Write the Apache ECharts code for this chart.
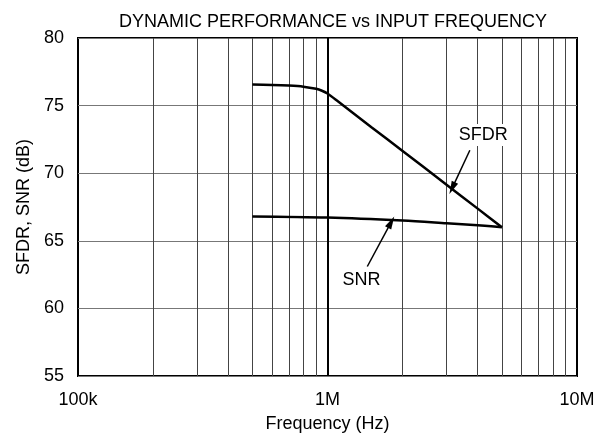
<!DOCTYPE html>
<html><head><meta charset="utf-8">
<script src="https://cdn.jsdelivr.net/npm/echarts@6/dist/echarts.min.js"></script>
<style>html,body{margin:0;padding:0;background:#fff}#c{width:608px;height:443px}</style>
</head><body><div id="c"></div>
<script>
// Data
const sfdrFreq = [5e5, 6e5, 7e5, 8e5, 9e5, 9.5e5, 1e6, 1.1e6, 1.5e6, 2e6, 3e6, 4e6, 5e6];
const sfdrVal  = [76.56, 76.53, 76.48, 76.4, 76.24, 76.1, 75.9, 75.32, 73.4, 71.65, 69.15, 67.38, 66.0];
const snrFreq  = [5e5, 1e6, 2e6, 3e6, 4e6, 5e6];
const snrVal   = [66.8, 66.72, 66.5, 66.3, 66.15, 66.0];
const xTickLabels = {100000: '100k', 1000000: '1M', 10000000: '10M'};
const minorGrid = [2e5,3e5,4e5,5e5,6e5,7e5,8e5,9e5,2e6,3e6,4e6,5e6,6e6,7e6,8e6,9e6];
const majorGrid = [1e6];
// annotation positions in data space
const sfdrLabel = [4.21e6, 72.83];
const sfdrArrow = [[3.72e6, 71.7], [3.16e6, 68.9]];
const snrLabel = [1.37e6, 62.1];
const snrArrow = [[1.444e6, 63.1], [1.8e6, 66.38]];

const FONT = 'Liberation Sans, Arial, sans-serif';
const FS = 18;
const chart = echarts.init(document.getElementById('c'));
const zip = (a, b) => a.map((v, i) => [v, b[i]]);

chart.setOption({
  animation: false,
  title: {
    text: 'DYNAMIC PERFORMANCE vs INPUT FREQUENCY',
    left: 328, top: 8, textAlign: 'center',
    textStyle: {fontFamily: FONT, fontSize: FS, fontWeight: 'normal', color: '#000'}
  },
  grid: {left: 78, right: 31, top: 38, bottom: 67, show: true, borderColor: '#000', borderWidth: 2, backgroundColor: 'transparent'},
  xAxis: {
    type: 'log', logBase: 10, min: 1e5, max: 1e7,
    name: 'Frequency (Hz)', nameLocation: 'middle', nameGap: 39,
    nameTextStyle: {fontFamily: FONT, fontSize: FS, color: '#000'},
    axisLine: {show: false}, axisTick: {show: false}, splitLine: {show: false},
    axisLabel: {fontFamily: FONT, fontSize: FS, color: '#000', margin: 15,
      formatter: v => xTickLabels[Math.round(v)] || ''}
  },
  yAxis: {
    type: 'value', min: 55, max: 80, interval: 5,
    name: 'SFDR, SNR (dB)', nameLocation: 'middle', nameGap: 44,
    nameTextStyle: {fontFamily: FONT, fontSize: FS, color: '#000'},
    axisLine: {show: false}, axisTick: {show: false},
    splitLine: {show: true, lineStyle: {color: '#777', width: 1}},
    axisLabel: {fontFamily: FONT, fontSize: FS, color: '#000', margin: 14}
  },
  series: [
    {
      type: 'line', data: zip(sfdrFreq, sfdrVal), smooth: 0.25, symbol: 'none',
      lineStyle: {color: '#000', width: 2.5}, z: 5,
      markLine: {
        silent: true, symbol: 'none', label: {show: false}, animation: false,
        data: [
          ...minorGrid.map(v => ({xAxis: v, lineStyle: {color: '#444', width: 1, type: 'solid'}})),
          ...majorGrid.map(v => ({xAxis: v, lineStyle: {color: '#000', width: 2, type: 'solid'}}))
        ]
      },
      markPoint: {
        silent: true, symbol: 'circle', symbolSize: 0,
        label: {show: true, position: 'inside', fontFamily: FONT, fontSize: FS, color: '#000', backgroundColor: '#fff', padding: [2, 3]},
        data: [{coord: sfdrLabel, value: 'SFDR', label: {formatter: 'SFDR'}}]
      }
    },
    {
      type: 'line', data: zip(snrFreq, snrVal), smooth: 0.3, symbol: 'none',
      lineStyle: {color: '#000', width: 2.5}, z: 5,
      markLine: {
        silent: true, symbol: ['none', 'triangle'], symbolSize: [7, 13], label: {show: false},
        lineStyle: {color: '#000', width: 1.5, type: 'solid'},
        itemStyle: {color: '#000'},
        data: [
          [{coord: sfdrArrow[0]}, {coord: sfdrArrow[1]}],
          [{coord: snrArrow[0]}, {coord: snrArrow[1]}]
        ]
      },
      markPoint: {
        silent: true, symbol: 'circle', symbolSize: 0,
        label: {show: true, position: 'inside', fontFamily: FONT, fontSize: FS, color: '#000', backgroundColor: '#fff', padding: [2, 3]},
        data: [{coord: snrLabel, value: 'SNR', label: {formatter: 'SNR'}}]
      }
    }
  ]
});
</script></body></html>
